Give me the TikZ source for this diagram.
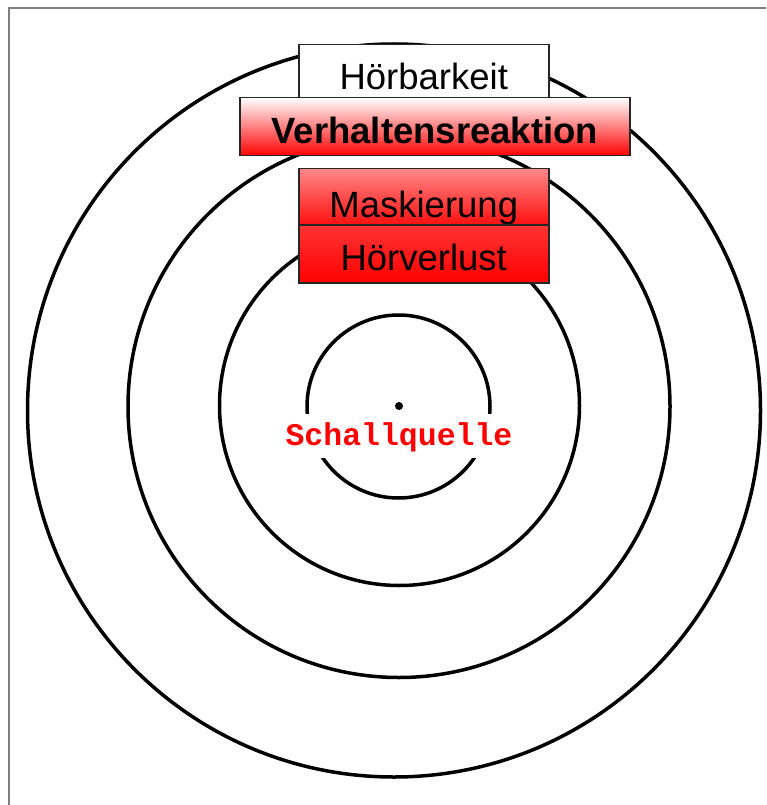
\documentclass[tikz,border=0pt]{standalone}
\usepackage{fontspec}
\setmainfont{Liberation Sans}
\newfontfamily\monofnt{Liberation Mono}
\definecolor{framegray}{HTML}{808080}
\definecolor{pinkred}{HTML}{FF8888}
\definecolor{midred}{HTML}{FF1010}
\definecolor{lightred}{HTML}{FF3535}
\begin{document}
\begin{tikzpicture}[x=1pt,y=-1pt,
  ring/.style={line width=3.5pt,draw=black},
  boxstyle/.style={draw=black!85,line width=1.5pt,inner sep=0pt,anchor=north west,
    font=\fontsize{36.5}{40}\selectfont},
  ]
\useasboundingbox (0,0) rectangle (766,805);
\draw[framegray,line width=1.3pt] (9,805) -- (9,8) -- (766,8);
% rings
\draw[ring] (394,410.5) circle[radius=366.5];
\draw[ring] (399,406.5) circle[radius=271];
\draw[ring] (399.5,405.5) circle[radius=180];
\draw[ring] (398.5,406.5) circle[radius=91.5];
\fill (399,406) circle[radius=4];
\node[fill=white,inner ysep=0pt,inner xsep=2pt,text height=31pt,text depth=13pt,
  text=red,font=\monofnt\bfseries\fontsize{31.5}{34}\selectfont] (src) at (399,436) {Schallquelle};
% boxes
\node[boxstyle,fill=white,minimum width=250pt,text height=45pt,text depth=8pt] (hb) at (298,44) {Hörbarkeit};
\node[boxstyle,top color=white,bottom color=red,minimum width=390pt,text height=46pt,text depth=12pt,
  font=\bfseries\fontsize{36.5}{40}\selectfont] (vr) at (239,97) {Verhaltensreaktion};
\node[boxstyle,top color=pinkred,bottom color=midred,minimum width=250pt,text height=49pt,text depth=7pt] (mk) at (298,168) {Maskierung};
\node[boxstyle,top color=lightred,bottom color=red,minimum width=250pt,text height=46pt,text depth=12pt] (hv) at (298,224) {Hörverlust};
\end{tikzpicture}
\end{document}
